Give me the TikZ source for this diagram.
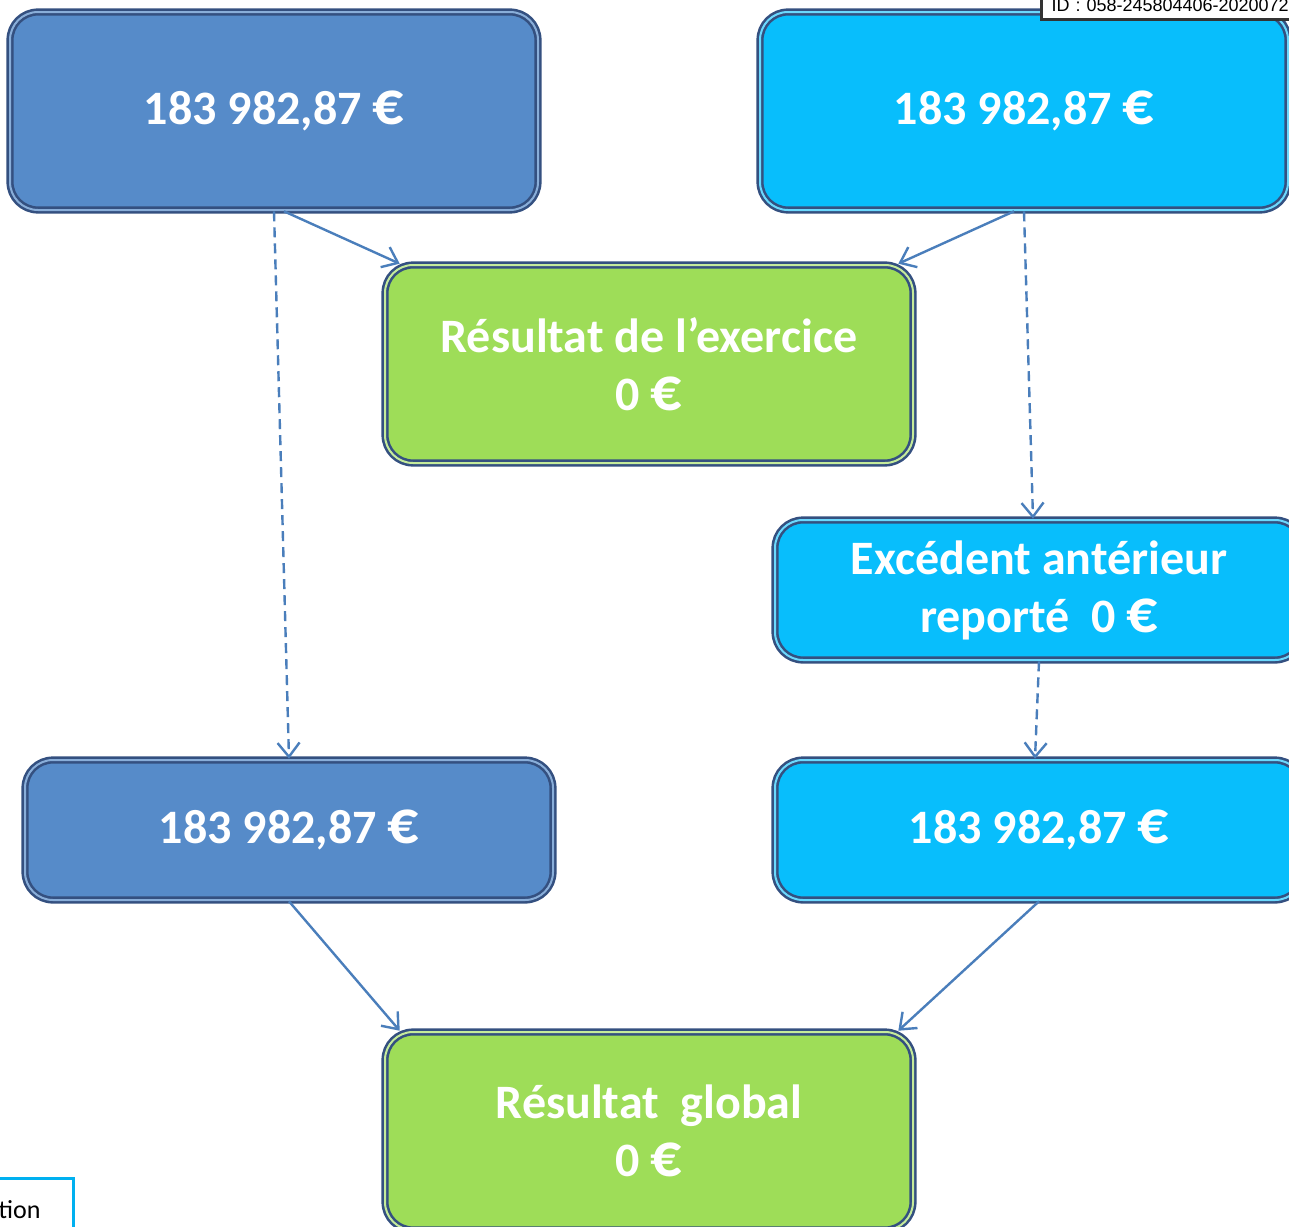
\documentclass[tikz,border=0pt]{standalone}
\usepackage{fontspec}
\setmainfont{Carlito}
\newfontfamily\idfont{Liberation Sans}
\usetikzlibrary{arrows.meta}

\definecolor{boxblue}{RGB}{86,139,201}
\definecolor{boxcyan}{RGB}{8,190,252}
\definecolor{boxgreen}{RGB}{158,221,88}
\definecolor{edgeblue}{RGB}{52,80,128}
\definecolor{arrowblue}{RGB}{74,126,187}
\definecolor{framecyan}{RGB}{0,176,240}

\newcommand{\eur}{{\fontsize{31}{29}\selectfont €}}

\begin{document}
\begin{tikzpicture}[x=0.5pt, y=-0.5pt,
  box/.style={rectangle, rounded corners=14pt, draw=edgeblue, line width=1.3pt,
    double distance=1pt, minimum width=264pt, text=white, align=center,
    font=\bfseries\fontsize{24}{29}\selectfont},
  bluebox/.style={box, fill=boxblue, double=boxblue!70!white},
  cyanbox/.style={box, fill=boxcyan, double=boxcyan!60!white},
  greenbox/.style={box, fill=boxgreen, double=boxgreen!60!white},
  arr/.style={draw=arrowblue, line width=1.2pt, -{Straight Barb[length=7pt,width=11pt]}},
  dasharr/.style={arr, dash pattern=on 5pt off 3pt}]

\useasboundingbox (0,0) rectangle (1289,1226);

\node (tl)[bluebox, minimum height=99pt] at (274, 111) {183 982,87 \eur};
\node (tr)[cyanbox, minimum height=99pt] at (1024, 111) {183 982,87 \eur};

\node (res)[greenbox, minimum height=99pt] at (649, 364) {Résultat de l’exercice\\0 \eur};

\node (exc)[cyanbox, minimum height=70pt] at (1039, 590) {Excédent antérieur\\reporté\ \ 0 \eur};

\node (bl)[bluebox, minimum height=70pt] at (289, 830) {183 982,87 \eur};
\node (br)[cyanbox, minimum height=70pt] at (1039, 830) {183 982,87 \eur};

\node (glob)[greenbox, minimum height=99pt] at (649, 1131) {Résultat\ \ global\\0 \eur};

\node (id)[draw=black!80, fill=white, line width=1.5pt, anchor=base west, inner xsep=5pt,
  inner ysep=4pt, text width=140pt, align=left,
  font=\idfont\fontsize{9}{10}\selectfont] at (1040, 11) {ID : 058-245804406-2020072};

\node (tion)[draw=framecyan, line width=1.5pt, anchor=base east, inner xsep=16.5pt,
  inner ysep=11pt, font=\fontsize{13}{15}\selectfont] at (75, 1218) {tion};

\draw[arr] ([xshift=5pt]tl.south) -- ([xshift=8pt]res.north west);
\draw[arr] ([xshift=-5pt]tr.south) -- ([xshift=-8pt]res.north east);

\draw[dasharr] (tl.south) -- (bl.north);
\draw[dasharr] (tr.south) -- ([xshift=-3pt]exc.north);
\draw[dasharr] (exc.south) -- ([xshift=-2pt]br.north);

\draw[arr] (bl.south) -- ([xshift=8pt]glob.north west);
\draw[arr] (br.south) -- ([xshift=-8pt]glob.north east);

\end{tikzpicture}
\end{document}
